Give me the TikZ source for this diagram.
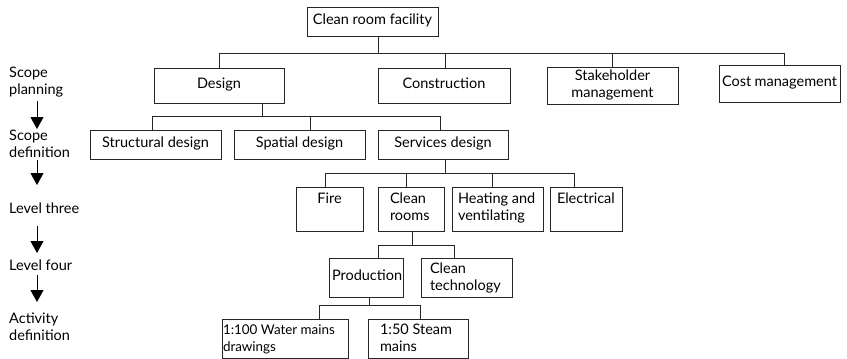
\documentclass[tikz,border=0pt]{standalone}
\usepackage{fontspec}
\setmainfont{Lato}
\usetikzlibrary{arrows.meta}
\tikzset{
  box/.style={draw=black!85, line width=0.9pt, inner sep=3pt, outer sep=0pt},
  conn/.style={draw=black!85, line width=0.9pt},
  lvl/.style={anchor=west, align=left, inner sep=0pt},
  lvlarrow/.style={draw=black, line width=1pt, -{Triangle[width=13pt,length=12pt]}}
}
\newcommand\bx[8]{%
  \pgfmathsetmacro\bw{#4-#2-6}%
  \pgfmathsetmacro\bh{#5-#3-6}%
  \node[box] (#1) at ({(#2+#4)/2},{(#3+#5)/2}) {\parbox[c][\bh pt][#6]{\bw pt}{#7\strut#8\strut}};%
}
\begin{document}
\begin{tikzpicture}[x=1pt,y=-1pt,font=\fontsize{14.5}{17}\selectfont]
\useasboundingbox (0,0) rectangle (847,359);
% level labels
\node[lvl] (l1) at (9,82.5) {Scope\\planning};
\node[lvl] (l2) at (9,144) {Scope\\definition};
\node[lvl] (l3) at (9,208) {Level three};
\node[lvl] (l4) at (9,265) {Level four};
\node[lvl] (l5) at (9,326.5) {Activity\\definition};
\coordinate (a1s) at (37,101); \coordinate (a1e) at (37,129);
\coordinate (a2s) at (37,160); \coordinate (a2e) at (37,185);
\coordinate (a3s) at (37,226); \coordinate (a3e) at (37,253);
\coordinate (a4s) at (37,275); \coordinate (a4e) at (37,302);
\draw[lvlarrow] (a1s) -- (a1e);
\draw[lvlarrow] (a2s) -- (a2e);
\draw[lvlarrow] (a3s) -- (a3e);
\draw[lvlarrow] (a4s) -- (a4e);
% boxes
\bx{top}{307}{7}{438}{36}{c}{\centering}{Clean room facility}
\bx{des}{154}{68}{284}{103}{c}{\centering}{Design}
\bx{con}{378}{68}{510}{103}{c}{\centering}{Construction}
\bx{stk}{547}{67}{678}{104}{c}{\centering}{Stakeholder\\management}
\bx{cst}{719}{65}{840}{102}{c}{\centering}{Cost management}
\bx{str}{90}{130}{221}{159}{c}{\centering}{Structural design}
\bx{spa}{234}{130}{365}{159}{c}{\centering}{Spatial design}
\bx{ser}{378}{130}{508}{159}{c}{\centering}{Services design}
\bx{fir}{296}{187}{363}{231}{t}{\centering\vspace*{2pt}}{Fire}
\bx{clr}{378}{187}{444}{231}{t}{\raggedright\leftskip=9pt\vspace*{2pt}}{Clean\\rooms}
\bx{hea}{452}{187}{543}{231}{t}{\raggedright\leftskip=3pt\vspace*{2pt}}{Heating and\\ventilating}
\bx{ele}{550}{187}{622}{231}{t}{\raggedright\leftskip=4pt\vspace*{2pt}}{Electrical}
\bx{pro}{329}{258}{403}{297}{c}{\centering}{Production}
\bx{clt}{421}{258}{512}{297}{t}{\raggedright\leftskip=6pt\vspace*{1pt}}{Clean\\technology}
\bx{wat}{222}{319}{348}{358}{t}{\raggedright\leftskip=-2pt\fontsize{13.4}{17}\selectfont\vspace*{1pt}}{1:100 Water mains\\drawings}
\bx{stm}{368}{319}{468}{358}{t}{\raggedright\leftskip=9pt\vspace*{1pt}}{1:50 Steam\\mains}
% connectors
\draw[conn] (top.south -| 378,0) -- (378,53);
\draw[conn] (219,53) -- (784,53);
\draw[conn] (219,53) -- (219,53 |- des.north);
\draw[conn] (445,53) -- (445,53 |- con.north);
\draw[conn] (612,53) -- (612,53 |- stk.north);
\draw[conn] (784,53) -- (784,53 |- cst.north);
\draw[conn] (des.south -| 262,0) -- (262,116);
\draw[conn] (152,116) -- (440,116);
\draw[conn] (152,116) -- (152,116 |- str.north);
\draw[conn] (310,116) -- (310,116 |- spa.north);
\draw[conn] (440,116) -- (440,116 |- ser.north);
\draw[conn] (ser.south -| 445,0) -- (445,173);
\draw[conn] (325,173) -- (574,173);
\draw[conn] (325,173) -- (325,173 |- fir.north);
\draw[conn] (406,173) -- (406,173 |- clr.north);
\draw[conn] (492,173) -- (492,173 |- hea.north);
\draw[conn] (574,173) -- (574,173 |- ele.north);
\draw[conn] (clr.south -| 412,0) -- (412,245);
\draw[conn] (378,245) -- (454,245);
\draw[conn] (378,245) -- (378,245 |- pro.north);
\draw[conn] (454,245) -- (454,245 |- clt.north);
\draw[conn] (pro.south -| 369,0) -- (369,305);
\draw[conn] (319,305) -- (420,305);
\draw[conn] (319,305) -- (319,305 |- wat.north);
\draw[conn] (420,305) -- (420,305 |- stm.north);
\end{tikzpicture}
\end{document}
